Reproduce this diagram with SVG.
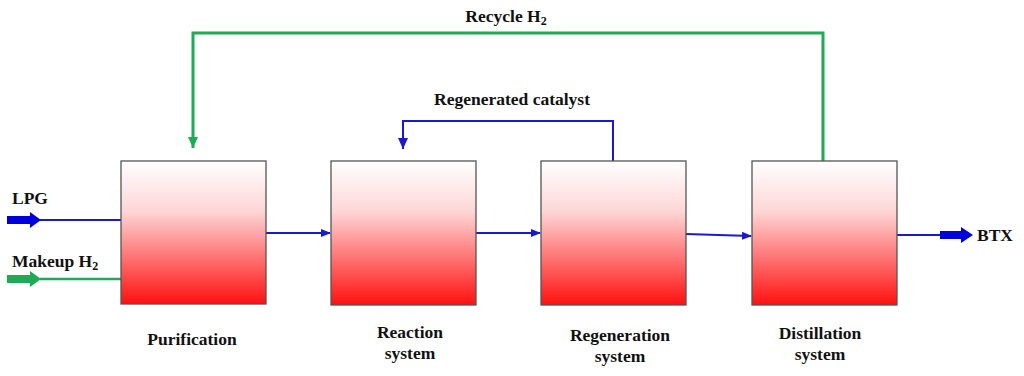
<svg xmlns="http://www.w3.org/2000/svg" width="1024" height="376" viewBox="0 0 1024 376">
<style>
.box{stroke:#555;stroke-width:1.3;fill:url(#g)}
.t{font-family:"Liberation Serif","Times New Roman",serif;font-weight:bold;font-size:17.5px;fill:#111;text-anchor:middle}
.b{stroke:#1a1acc;stroke-width:2;fill:none}
.gr{stroke:#1faa55;stroke-width:3;fill:none}
</style>
<defs>
<linearGradient id="g" x1="0" y1="0" x2="0" y2="1">
<stop offset="0" stop-color="#ffffff"/>
<stop offset="0.35" stop-color="#fdd6d6"/>
<stop offset="1" stop-color="#ff1010"/>
</linearGradient>
<marker id="ab" markerWidth="10" markerHeight="10" refX="9" refY="5" orient="auto" markerUnits="userSpaceOnUse"><path d="M0,1 L10,5 L0,9 Z" fill="#1a1acc"/></marker>
<marker id="ag" markerWidth="12" markerHeight="12" refX="6" refY="11" orient="0" markerUnits="userSpaceOnUse"><path d="M1,0 L11,0 L6,11 Z" fill="#1faa55"/></marker>
<marker id="abd" markerWidth="12" markerHeight="12" refX="6" refY="11" orient="0" markerUnits="userSpaceOnUse"><path d="M1,0 L11,0 L6,11 Z" fill="#1a1acc"/></marker>
</defs>
<g id="connectors">
<path class="gr" d="M823,161 V33 H193 V148" marker-end="url(#ag)"/>
<path class="b" d="M613,161 V121 H403 V149" stroke-width="2.5" marker-end="url(#abd)"/>
<path class="b" d="M40,220 H121"/>
<path d="M7,216 H30 V212 L41,220 L30,228 V224 H7 Z" fill="#0000dd"/>
<path d="M40,279 H121" stroke="#1faa55" stroke-width="2.5" fill="none"/>
<path d="M7,275 H30 V271 L41,279 L30,287 V283 H7 Z" fill="#1faa55"/>
<path class="b" d="M266,233 H330" marker-end="url(#ab)"/>
<path class="b" d="M476,233 H540" marker-end="url(#ab)"/>
<path class="b" d="M686,234 L751,236" marker-end="url(#ab)"/>
<path class="b" d="M897,235 H940"/>
<path d="M940,231 H961 V227 L973,235 L961,243 V239 H940 Z" fill="#0000dd"/>
</g>
<g id="purification"><rect class="box" x="121" y="161" width="145" height="143"/><text class="t" x="192" y="345">Purification</text></g>
<g id="reaction"><rect class="box" x="331" y="161" width="145" height="144"/><text class="t" x="410" y="338">Reaction</text><text class="t" x="410" y="359">system</text></g>
<g id="regeneration"><rect class="box" x="541" y="161" width="145" height="144"/><text class="t" x="620" y="341">Regeneration</text><text class="t" x="620" y="362">system</text></g>
<g id="distillation"><rect class="box" x="752" y="161" width="145" height="144"/><text class="t" x="820" y="339">Distillation</text><text class="t" x="820" y="360">system</text></g>
<text class="t" x="12" y="204" style="text-anchor:start">LPG</text>
<text class="t" x="12" y="267" style="text-anchor:start">Makeup H<tspan font-size="12" dy="3">2</tspan></text>
<text class="t" x="977" y="241" style="text-anchor:start">BTX</text>
<text class="t" x="506" y="22">Recycle H<tspan font-size="12" dy="3">2</tspan></text>
<text class="t" x="512" y="105">Regenerated catalyst</text>
</svg>
